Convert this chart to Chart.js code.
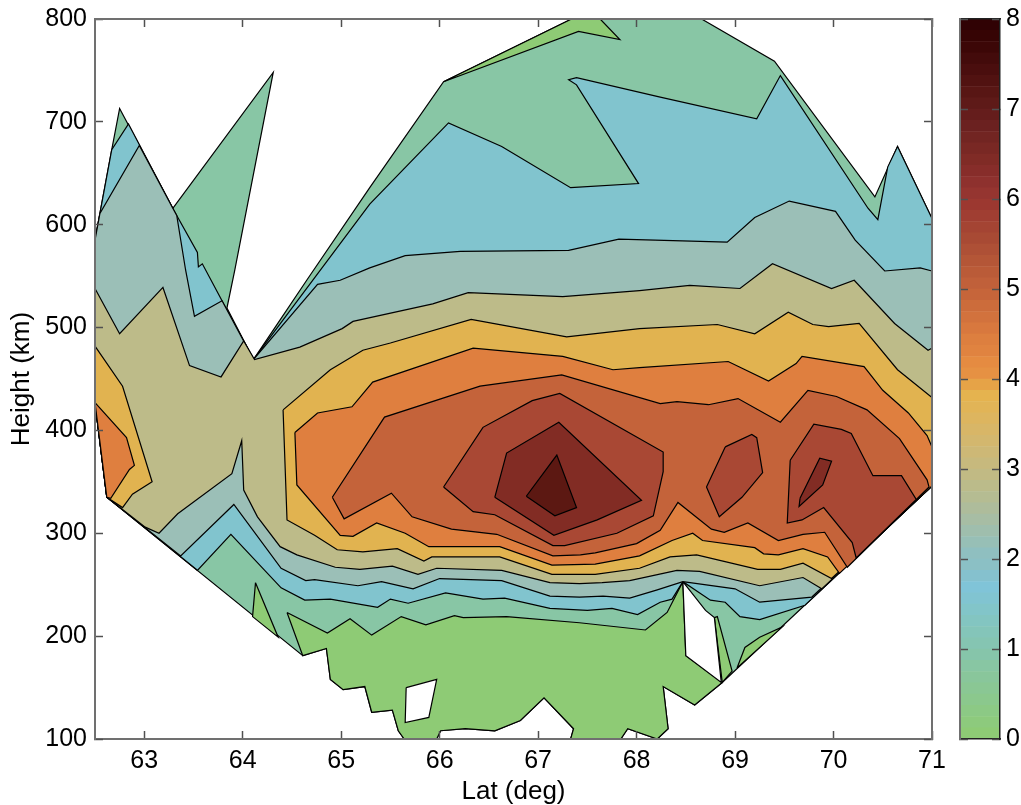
<!DOCTYPE html>
<html>
<head>
<meta charset="utf-8">
<style>
  body { margin: 0; background: #fff; }
  canvas { position: absolute; top: 0; }
  #contourChart { left: 0; }
  #colorbarChart { left: 950px; }
</style>
<script src="https://cdn.jsdelivr.net/npm/chart.js@4/dist/chart.umd.min.js"></script>
</head>
<body>
<canvas id="contourChart" width="950" height="805"></canvas>
<canvas id="colorbarChart" width="71" height="805"></canvas>
<script>
// tick labels
const latTicks = [63, 64, 65, 66, 67, 68, 69, 70, 71];
const heightTicks = [100, 200, 300, 400, 500, 600, 700, 800];
const colorbarTicks = [0, 1, 2, 3, 4, 5, 6, 7, 8];

// contour regions, [lat, height]
const dataOutline = [[62.5,585],[62.55,611],[62.67,673],[62.75,713],[63.29,616],[64.31,748],[63.92,556],[63.84,519],[64.11,469],[64.65,546],[65.29,636],[66.04,739],[67.34,800],[68.66,800],[69.4,759],[70.42,627],[70.65,676],[71,606],[71,346],[68.87,155],[68.59,133],[68.27,151],[68.32,110],[68.21,100],[67.91,110],[67.84,100],[67.33,100],[67.36,110],[67.06,140],[66.82,118],[66.56,108],[66.26,110],[66.01,108],[65.97,100],[65.64,100],[65.58,108],[65.52,128],[65.31,126],[65.24,151],[65.02,148],[64.89,158],[64.85,188],[64.61,181],[62.62,335],[62.5,427]];
const lowBottom = [[64.45,223],[64.86,203],[65.09,217],[65.31,201],[65.61,219],[65.86,211],[66.15,220],[66.24,218],[66.68,219],[67.42,213],[68.09,206],[68.31,223],[68.47,253],[68.5,181],[68.87,155],[68.59,133],[68.27,151],[68.32,110],[68.21,100],[67.91,110],[67.84,100],[67.33,100],[67.36,110],[67.06,140],[66.82,118],[66.56,108],[66.26,110],[66.01,108],[65.97,100],[65.64,100],[65.58,108],[65.52,128],[65.31,126],[65.24,151],[65.02,148],[64.89,158],[64.85,188],[64.61,181]];
const lowWedge = [[64.13,252],[64.1,219],[64.36,199]];
const lowSliver = [[68.79,218],[68.82,219],[68.97,166],[68.87,155]];
const lowEdge = [[69.02,169],[69.1,189],[69.25,199],[69.48,209]];
const lowTop = [[66.04,739],[67.41,788],[67.83,780],[67.63,800],[67.34,800]];
const gapIsland = [[65.66,150],[65.97,158],[65.89,121],[65.65,116]];
const gapNotch = [[68.47,253],[68.5,181],[68.86,155],[68.79,218],[68.7,225]];
const level1 = [[64.11,469],[65.29,620],[66.09,699],[66.63,676],[67.33,636],[68.02,640],[67.39,736],[67.31,741],[67.39,743],[68.24,724],[69.22,703],[69.46,745],[70.35,616],[70.45,605],[70.55,656],[70.65,676],[71,606],[71,346],[69.71,230],[69.25,216],[69.05,219],[68.9,233],[68.75,235],[68.47,253],[68.36,236],[68.24,233],[68.01,221],[67.75,227],[67.5,225],[67.12,227],[66.66,237],[66.44,236],[66.06,242],[65.68,232],[65.5,236],[65.37,228],[64.89,236],[64.63,235],[64.39,247],[63.88,299],[63.54,264],[62.62,335],[62.5,427],[62.5,585],[62.55,611],[62.67,673],[62.84,698],[63.29,616],[63.33,609],[63.54,573],[63.55,559],[63.59,562],[63.79,526]];
const level2 = [[62.5,585],[62.55,611],[62.95,677],[63.29,616],[63.33,609],[63.42,556],[63.51,511],[63.79,526],[64.11,469],[64.76,542],[64.99,546],[65.29,558],[65.65,570],[66.21,574],[67.31,575],[67.82,586],[68.92,583],[69.2,607],[69.55,623],[70.02,613],[70.22,585],[70.52,555],[70.88,558],[71,555],[71,346],[69.78,238],[69.25,233],[69,246],[68.47,253],[68.21,245],[67.93,237],[67.66,239],[67.42,238],[67.12,239],[66.63,254],[66,256],[65.73,246],[65.41,253],[65.17,249],[64.73,255],[64.64,254],[64.39,266],[63.91,328],[63.37,278],[62.62,335],[62.5,427]];
const level3 = [[62.5,538],[62.75,494],[63.19,539],[63.46,463],[63.78,452],[64.01,487],[64.12,469],[64.58,481],[65.01,499],[65.12,506],[65.93,523],[66.29,534],[67.25,530],[68.03,536],[68.54,541],[69.05,538],[69.38,562],[69.98,538],[70.21,546],[70.62,504],[70.96,478],[71,480],[71,346],[69.88,246],[69.69,257],[69.25,249],[68.64,263],[68.41,264],[67.93,254],[67.65,252],[67.42,251],[67.12,252],[66.63,264],[65.97,266],[65.78,260],[65.52,268],[65.19,265],[64.94,267],[64.55,279],[64.38,287],[64.15,316],[64.01,342],[63.99,390],[63.89,358],[63.34,319],[63.15,300],[63.01,306],[62.62,335],[62.5,427]];
const level4West = [[62.5,482],[62.78,443],[63.08,350],[62.88,338],[62.78,325],[62.62,335],[62.5,427]];
const level4 = [[64.41,420],[64.89,459],[65.22,478],[65.5,485],[66.32,508],[67.29,491],[68.03,499],[68.82,503],[69.2,494],[69.54,515],[69.79,503],[69.95,501],[70.26,504],[70.65,459],[71,432],[71,346],[69.98,256],[69.69,271],[69.46,265],[69.23,265],[68.61,279],[68.34,277],[68.03,266],[67.58,260],[67.14,260],[66.61,277],[65.92,277],[65.84,273],[65.57,285],[65.22,282],[64.96,284],[64.73,298],[64.45,313]];
const level5West = [[62.5,427],[62.82,393],[62.9,366],[62.85,362],[62.66,334],[62.62,335]];
const level5 = [[64.53,398],[64.76,417],[65.11,423],[65.32,447],[66.34,480],[67.25,472],[67.76,459],[68.03,461],[68.93,467],[69.34,448],[69.62,465],[69.68,472],[70.31,462],[70.5,439],[70.76,417],[70.95,395],[71,384],[71,346],[70.06,261],[69.94,277],[69.69,285],[69.44,279],[69.29,280],[69.2,286],[68.67,293],[68.57,300],[68.36,293],[68.03,278],[67.58,270],[67.14,269],[66.61,287],[65.89,287],[65.65,300],[65.36,310],[65.12,297],[64.99,298],[64.55,347]];
const level6 = [[64.91,335],[65.44,413],[66.41,443],[67.24,454],[68.24,426],[68.41,428],[68.73,425],[69.03,431],[69.46,408],[69.74,439],[70.03,433],[70.34,420],[70.67,392],[70.95,352],[70.97,345],[70.14,267],[69.91,301],[69.69,299],[69.44,293],[69.13,310],[68.89,301],[68.76,304],[68.42,330],[68.24,303],[68,290],[67.58,281],[67.43,279],[67.15,278],[66.58,299],[66.12,304],[65.72,316],[65.51,339],[65.03,314]];
const level7Center = [[66.04,345],[66.44,403],[66.94,429],[67.22,436],[68.27,379],[68.27,360],[68.17,317],[67.8,300],[67.27,288],[67.15,288],[66.56,318],[66.34,321]];
const level7Mid = [[68.9,384],[69.17,396],[69.22,393],[69.28,359],[69.07,335],[68.84,316],[68.71,345]];
const level7East = [[69.56,371],[69.8,406],[70.08,401],[70.18,397],[70.4,356],[70.69,356],[70.84,333],[70.23,276],[70.19,291],[69.9,325],[69.68,313],[69.53,310]];
const level8Center = [[66.56,335],[66.68,378],[67.21,408],[68.05,332],[67.6,313],[67.16,298]];
const level8East = [[69.66,334],[69.86,373],[69.98,370],[69.89,347],[69.65,326]];
const level9 = [[66.88,336],[67.19,376],[67.39,325],[67.17,317]];

// painted in this order, later ones on top
const regions = [
  [dataOutline, "#88C6A5"],
  [lowBottom, "#8ECB75"], [lowWedge, "#8ECB75"], [lowSliver, "#8ECB75"], [lowEdge, "#8ECB75"], [lowTop, "#8ECB75"],
  [gapIsland, "#FFFFFF"], [gapNotch, "#FFFFFF"],
  [level1, "#81C4CE"],
  [level2, "#9BBFB7"],
  [level3, "#BDBB89"],
  [level4West, "#E1B350"], [level4, "#E1B350"],
  [level5West, "#DF7F3F"], [level5, "#DF7F3F"],
  [level6, "#C4633A"],
  [level7Center, "#A94834"], [level7Mid, "#A94834"], [level7East, "#A94834"],
  [level8Center, "#822C24"], [level8East, "#822C24"],
  [level9, "#5C1812"],
];

// colorbar bands, bottom to top
const colorbarStep = 0.125;
const colorbarColors = [
  "#8ECB75","#8DCA7D","#8CC985","#8BC88D","#8AC794","#89C69B","#88C6A3","#86C5AA",
  "#85C5B2","#84C5B9","#83C5C1","#82C5C9","#81C4D1","#80C4D8","#85C1CE","#8BC0C5",
  "#8FBFC0","#97BFB6","#9FBEAD","#A7BDA4","#AEBC9B","#B5BC92","#BBBB8A","#C1BA84",
  "#C7B97D","#CDB876","#D3B76E","#D8B667","#DDB55F","#E1B457","#E5B34F","#E6A347",
  "#E69143","#E58B41","#E08340","#DD7F3F","#D8783E","#D2723D","#CC6C3B","#C6653A",
  "#C0603A","#BA5B38","#B45637","#AE5036","#A84A34","#A44433","#A03E32","#9C3830",
  "#953530","#8E312E","#872D2A","#802B26","#792824","#722522","#6B2120","#651D1C",
  "#5E1A18","#581614","#511211","#4A0E0E","#430B0B","#3C0707","#360404","#300204",
];

const tickFont = { family: "'Liberation Sans', Arial, sans-serif", size: 25 };
const titleFont = { family: "'Liberation Sans', Arial, sans-serif", size: 26 };
const axisGray = "#707070";
const axisDark = "#202020";

// keeps the plot box where the reference has it
function fixSize(prop, size) {
  return (scale) => {
    scale[prop] = size;
    scale.paddingLeft = scale.paddingRight = scale.paddingTop = scale.paddingBottom = 0;
  };
}

function axis(position, min, max, ticks, size, extra) {
  const horizontal = position === "top" || position === "bottom";
  return {
    type: "linear",
    position: position,
    min: min,
    max: max,
    afterBuildTicks: (scale) => { scale.ticks = ticks.map((v) => ({ value: v })); },
    afterFit: fixSize(horizontal ? "height" : "width", size),
    border: { color: axisGray, width: 2, z: 1 },
    grid: { drawOnChartArea: false, tickLength: -8, tickColor: "#505050", tickWidth: 1.5, z: 1 },
    ticks: { display: false },
    ...extra,
  };
}

function labelled(padding) {
  return { display: true, font: tickFont, color: "#000", padding: padding, maxRotation: 0, autoSkip: false };
}

// plain edge for the colorbar box
function barEdge(position) {
  return {
    type: "category",
    position: position,
    labels: ["colorbar"],
    stacked: true,
    afterFit: fixSize("height", 0),
    border: { color: axisDark, width: 1.5, z: 1 },
    grid: { display: false, drawTicks: false },
    ticks: { display: false },
  };
}

new Chart(document.getElementById("contourChart"), {
  type: "scatter",
  data: {
    // chart.js paints the first dataset last
    datasets: regions.slice().reverse().map(([shape, color]) => ({
      data: shape.concat([shape[0]]).map(([lat, height]) => ({ x: lat, y: height })),
      showLine: true,
      fill: "shape",
      backgroundColor: color,
      borderColor: "#000",
      borderWidth: 1.2,
      tension: 0,
      pointRadius: 0,
    })),
  },
  options: {
    responsive: false,
    animation: false,
    plugins: { legend: { display: false }, tooltip: { enabled: false } },
    scales: {
      x: axis("bottom", 62.5, 71, latTicks, 66, {
        ticks: labelled(15),
        title: { display: true, text: "Lat (deg)", font: titleFont, color: "#000", padding: { top: 0, bottom: -2 } },
      }),
      y: axis("left", 100, 800, heightTicks, 95, {
        ticks: labelled(16),
        title: { display: true, text: "Height (km)", font: titleFont, color: "#000", padding: { top: 6, bottom: 0 } },
      }),
      xTop: axis("top", 62.5, 71, latTicks, 19),
      yRight: axis("right", 100, 800, heightTicks, 18),
    },
  },
});

new Chart(document.getElementById("colorbarChart"), {
  type: "bar",
  data: {
    labels: ["colorbar"],
    datasets: colorbarColors.map((color) => ({
      data: [colorbarStep],
      backgroundColor: color,
      barPercentage: 1,
      categoryPercentage: 1,
      stack: "bar",
      yAxisID: "y",
    })),
  },
  options: {
    responsive: false,
    animation: false,
    layout: { padding: { left: 10, top: 19, bottom: 66 } },
    plugins: { legend: { display: false }, tooltip: { enabled: false } },
    scales: {
      x: barEdge("bottom"),
      xTop: barEdge("top"),
      y: axis("right", 0, 8, colorbarTicks, 21, {
        stacked: true,
        ticks: labelled(14),
        border: { color: axisDark, width: 1.5, z: 1 },
      }),
      yLeft: axis("left", 0, 8, colorbarTicks, 0),
    },
  },
});
</script>
</body>
</html>
